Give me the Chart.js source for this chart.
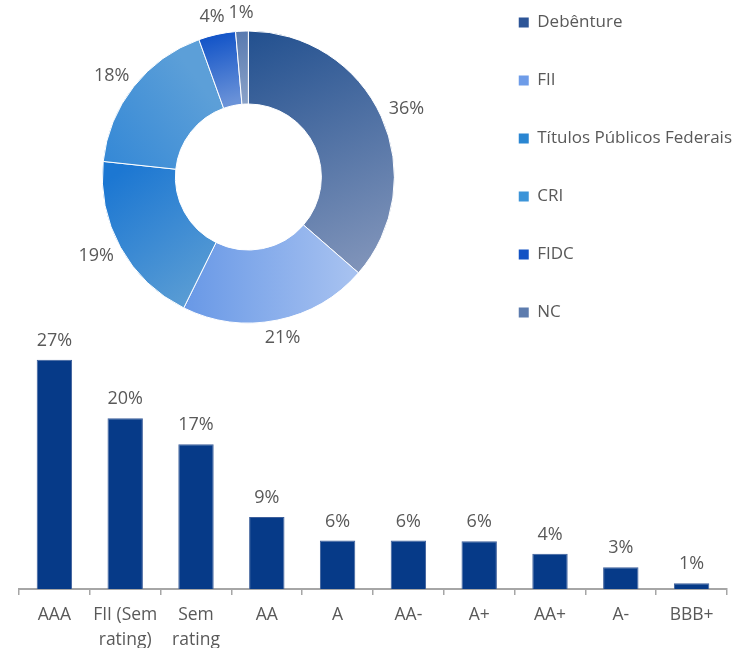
<!DOCTYPE html>
<html><head><meta charset="utf-8">
<script src="https://cdn.jsdelivr.net/npm/chart.js@4.4.1/dist/chart.umd.min.js"></script>
<style>
html,body{margin:0;padding:0;background:#fff;width:742px;height:648px;overflow:hidden;position:relative}
#donutWrap{position:absolute;left:0;top:-30px;width:742px;height:420px}
#barWrap{position:absolute;left:0;top:320px;width:742px;height:340px}
</style></head><body>
<div id="donutWrap"><canvas id="donut"></canvas></div>
<div id="barWrap"><canvas id="bar"></canvas></div>
<script>
// ---- data ----
const assetClasses = ['Debênture', 'FII', 'Títulos Públicos Federais', 'CRI', 'FIDC', 'NC'];
const assetShares = [36.4, 20.9, 19.4, 17.8, 4.1, 1.4];
const ratingLabels = ['AAA', ['FII (Sem', 'rating)'], ['Sem', 'rating'], 'AA', 'A', 'AA-', 'A+', 'AA+', 'A-', 'BBB+'];
const ratingShares = [27.4, 20.4, 17.3, 8.6, 5.8, 5.8, 5.7, 4.2, 2.6, 0.7];

// ---- styles ----
const TEXT = '#595959';
const FONT = '"Open Sans"';
const legendColors = ['#2d5597', '#6e9ce8', '#2a86d2', '#3c94d8', '#1352c4', '#5d7cae'];
const gradStops = [
  ['#22508f', '#8396bb'],
  ['#5a8fe4', '#a6c1f0'],
  ['#1c77d2', '#5e9fd4'],
  ['#3488d6', '#5c9fd8'],
  ['#0a4ec6', '#6a92d8'],
  ['#587ab0', '#8aa2c8']
];
const gradDirs = [
  [0, -1, 0.75, 0.7],
  [-0.7, 0.6, 0.7, 0.6],
  [-1, 0.05, -0.35, 0.9],
  [-1, -0.1, -0.3, -0.6],
  [-0.3, -1, -0.15, -0.5],
  [-0.05, -1, -0.02, -0.5]
];
const OUTER_R = 146;

function sliceFill(c) {
  const i = c.dataIndex;
  const ch = c.chart;
  const ca = ch.chartArea;
  if (!ca) return legendColors[i];
  const cx = (ca.left + ca.right) / 2, cy = (ca.top + ca.bottom) / 2;
  const d = gradDirs[i];
  const g = ch.ctx.createLinearGradient(cx + d[0] * OUTER_R, cy + d[1] * OUTER_R, cx + d[2] * OUTER_R, cy + d[3] * OUTER_R);
  g.addColorStop(0, gradStops[i][0]);
  g.addColorStop(1, gradStops[i][1]);
  return g;
}

const donutLabels = {
  id: 'donutLabels',
  afterDatasetsDraw(chart) {
    const meta = chart.getDatasetMeta(0);
    const ctx = chart.ctx;
    ctx.save();
    ctx.font = '18px ' + FONT;
    ctx.fillStyle = TEXT;
    ctx.textAlign = 'center';
    ctx.textBaseline = 'middle';
    meta.data.forEach((arc, i) => {
      const p = arc.getProps(['x', 'y', 'startAngle', 'endAngle', 'outerRadius'], true);
      const mid = (p.startAngle + p.endAngle) / 2;
      const txt = Math.round(assetShares[i]) + '%';
      const w = ctx.measureText(txt).width;
      const r0 = p.outerRadius + 6;
      const cx = p.x + Math.cos(mid) * (r0 + w / 2 + 4);
      const cy = p.y + Math.sin(mid) * (r0 + 12);
      ctx.fillText(txt, cx, cy);
    });
    ctx.restore();
  }
};

const barLabels = {
  id: 'barLabels',
  afterDatasetsDraw(chart) {
    const meta = chart.getDatasetMeta(0);
    const ctx = chart.ctx;
    ctx.save();
    ctx.font = '18px ' + FONT;
    ctx.fillStyle = TEXT;
    ctx.textAlign = 'center';
    ctx.textBaseline = 'middle';
    meta.data.forEach((bar, i) => {
      ctx.fillText(Math.round(ratingShares[i]) + '%', bar.x, bar.y - 19);
    });
    ctx.restore();
  }
};

new Chart(document.getElementById('donut'), {
  type: 'doughnut',
  data: {
    labels: assetClasses,
    datasets: [{
      data: assetShares,
      backgroundColor: sliceFill,
      borderColor: '#ffffff',
      borderWidth: 1,
      hoverOffset: 0
    }]
  },
  options: {
    responsive: true,
    maintainAspectRatio: false,
    animation: false,
    radius: OUTER_R,
    cutout: '50%',
    rotation: 0,
    layout: { padding: { left: 19, top: 3, bottom: 9, right: 0 } },
    plugins: {
      tooltip: { enabled: false },
      legend: {
        position: 'right',
        align: 'start',
        labels: {
          boxWidth: 10,
          boxHeight: 10,
          padding: 41,
          color: TEXT,
          font: { family: FONT, size: 17 },
          generateLabels: (chart) => chart.data.labels.map((t, i) => ({
            text: t, fillStyle: legendColors[i], strokeStyle: legendColors[i], lineWidth: 0, hidden: false, index: i, fontColor: TEXT
          }))
        }
      }
    }
  },
  plugins: [donutLabels]
});

new Chart(document.getElementById('bar'), {
  type: 'bar',
  data: {
    labels: ratingLabels,
    datasets: [{
      data: ratingShares,
      backgroundColor: '#063a88',
      borderColor: '#3d5f9b',
      borderWidth: 1,
      barPercentage: 0.5,
      categoryPercentage: 1
    }]
  },
  options: {
    responsive: true,
    maintainAspectRatio: false,
    animation: false,
    layout: { padding: { left: 19, right: 15, top: 18, bottom: 0 } },
    scales: {
      x: {
        grid: { display: true, drawOnChartArea: false, drawTicks: true, tickLength: 6, color: '#a6a6a6', lineWidth: 1.5, offset: true },
        border: { display: true, color: '#a6a6a6', width: 2 },
        ticks: { color: TEXT, font: { family: FONT, size: 17.5, lineHeight: 1.4 }, padding: 8, maxRotation: 0, autoSkip: false }
      },
      y: { display: false, min: 0, max: 30 }
    },
    plugins: { legend: { display: false }, tooltip: { enabled: false } }
  },
  plugins: [barLabels]
});
</script>
</body></html>
